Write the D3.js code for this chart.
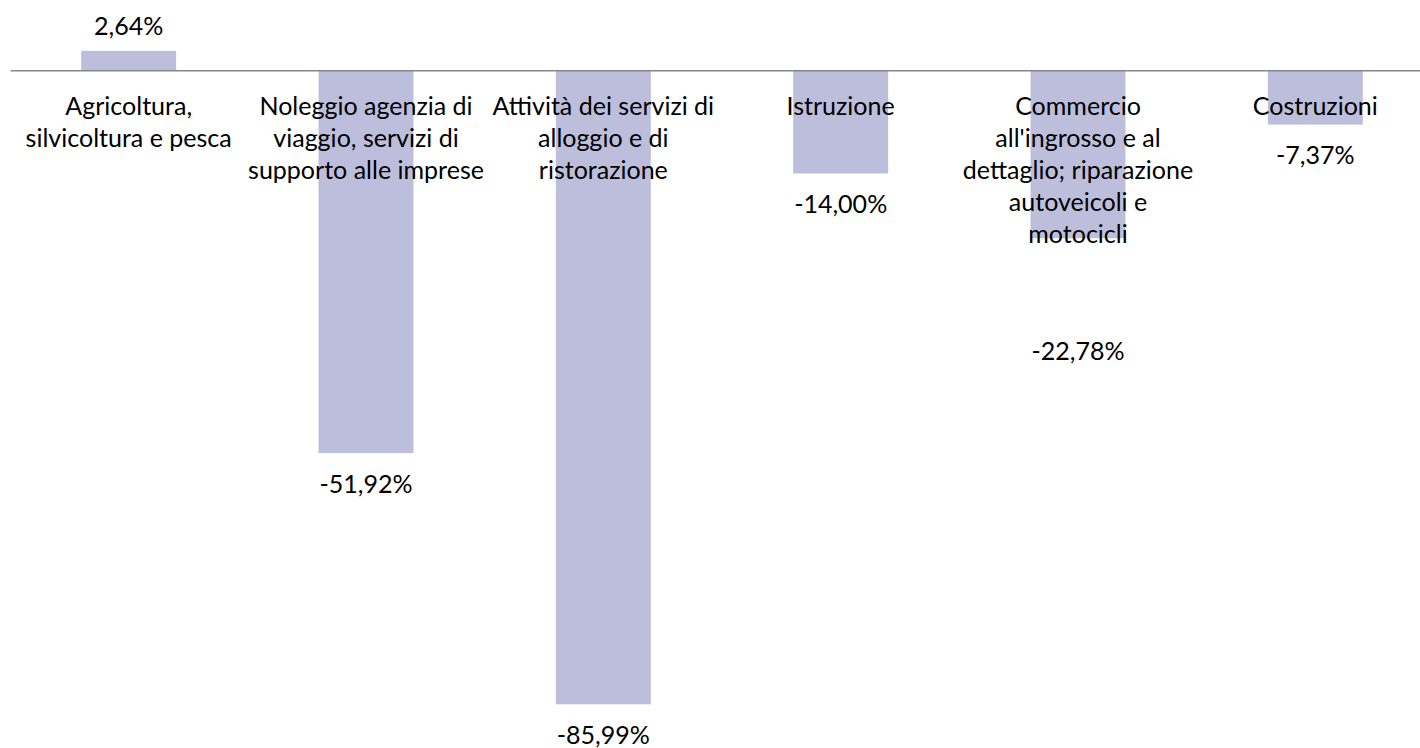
<!DOCTYPE html>
<html>
<head>
<meta charset="utf-8">
<script src="https://cdn.jsdelivr.net/npm/d3@7"></script>
<style>
  html, body { margin: 0; padding: 0; background: #fff; }
  svg { display: block; }
  text { font-family: Lato, "Noto Sans", sans-serif; fill: #000; }
</style>
</head>
<body>
<svg id="chart" width="1420" height="748"></svg>
<script>
// ---- data ----
const categories = [
  "Agricoltura, silvicoltura e pesca",
  "Noleggio agenzia di viaggio, servizi di supporto alle imprese",
  "Attività dei servizi di alloggio e di ristorazione",
  "Istruzione",
  "Commercio all'ingrosso e al dettaglio; riparazione autoveicoli e motocicli",
  "Costruzioni"
];
const categoryLines = [
  ["Agricoltura,", "silvicoltura e pesca"],
  ["Noleggio agenzia di", "viaggio, servizi di", "supporto alle imprese"],
  ["Attività dei servizi di", "alloggio e di", "ristorazione"],
  ["Istruzione"],
  ["Commercio", "all'ingrosso e al", "dettaglio; riparazione", "autoveicoli e", "motocicli"],
  ["Costruzioni"]
];
const values = [2.64, -51.92, -85.99, -14.00, -22.78, -7.37];
const yMin = -85.99, yMax = 2.64;

// ---- drawing ----
const svg = d3.select("#chart");

const x = d3.scaleBand().domain(categories).range([10, 1434])
  .paddingInner(0.6).paddingOuter(0.3);
const y = d3.scaleLinear().domain([yMin, yMax]).range([704.3, 50.8]);

const it = d3.formatLocale({decimal: ",", thousands: ".", grouping: [3], currency: ["", "€"], minus: "-"});
const fmt = v => it.format(".2f")(v) + "%";

// calibrate font size so label widths match the reference
const probe = svg.append("text").attr("font-size", 100).text("supporto alle imprese");
const pw = probe.node().getComputedTextLength();
probe.remove();
const fs = Math.max(18, Math.min(28, 100 * 236 / pw));

// bars
svg.append("g").selectAll("rect").data(categories).join("rect")
  .attr("x", d => x(d))
  .attr("width", x.bandwidth())
  .attr("y", (d, i) => Math.min(y(values[i]), y(0)))
  .attr("height", (d, i) => Math.abs(y(values[i]) - y(0)))
  .attr("fill", "#bdbedb");

// baseline (category axis without ticks)
const axis = svg.append("g").attr("transform", `translate(0,${y(0)})`)
  .call(d3.axisBottom(x).tickSize(0).tickFormat(""));
axis.select(".domain").attr("stroke", "#868686").attr("stroke-width", 1.3);

// category labels
const lineH = 32;
const firstLineBase = 115;
const catG = svg.append("g").selectAll("text").data(categories).join("text")
  .attr("text-anchor", "middle")
  .attr("font-size", fs)
  .attr("x", d => x(d) + x.bandwidth() / 2)
  .attr("y", firstLineBase);
catG.each(function(d, i) {
  d3.select(this).selectAll("tspan").data(categoryLines[i]).join("tspan")
    .attr("x", x(d) + x.bandwidth() / 2)
    .attr("y", (l, j) => firstLineBase + j * lineH)
    .text(l => l);
});

// value labels
const extraShift = {"Commercio all'ingrosso e al dettaglio; riparazione autoveicoli e motocicli": 82};
svg.append("g").selectAll("text").data(categories).join("text")
  .attr("text-anchor", "middle")
  .attr("font-size", fs)
  .attr("x", d => x(d) + x.bandwidth() / 2)
  .attr("y", (d, i) => {
    const v = values[i];
    const c = v >= 0 ? y(v) - 25 : y(v) + 31 + (extraShift[d] || 0);
    return c + fs * 0.35;
  })
  .text((d, i) => fmt(values[i]));
</script>
</body>
</html>
